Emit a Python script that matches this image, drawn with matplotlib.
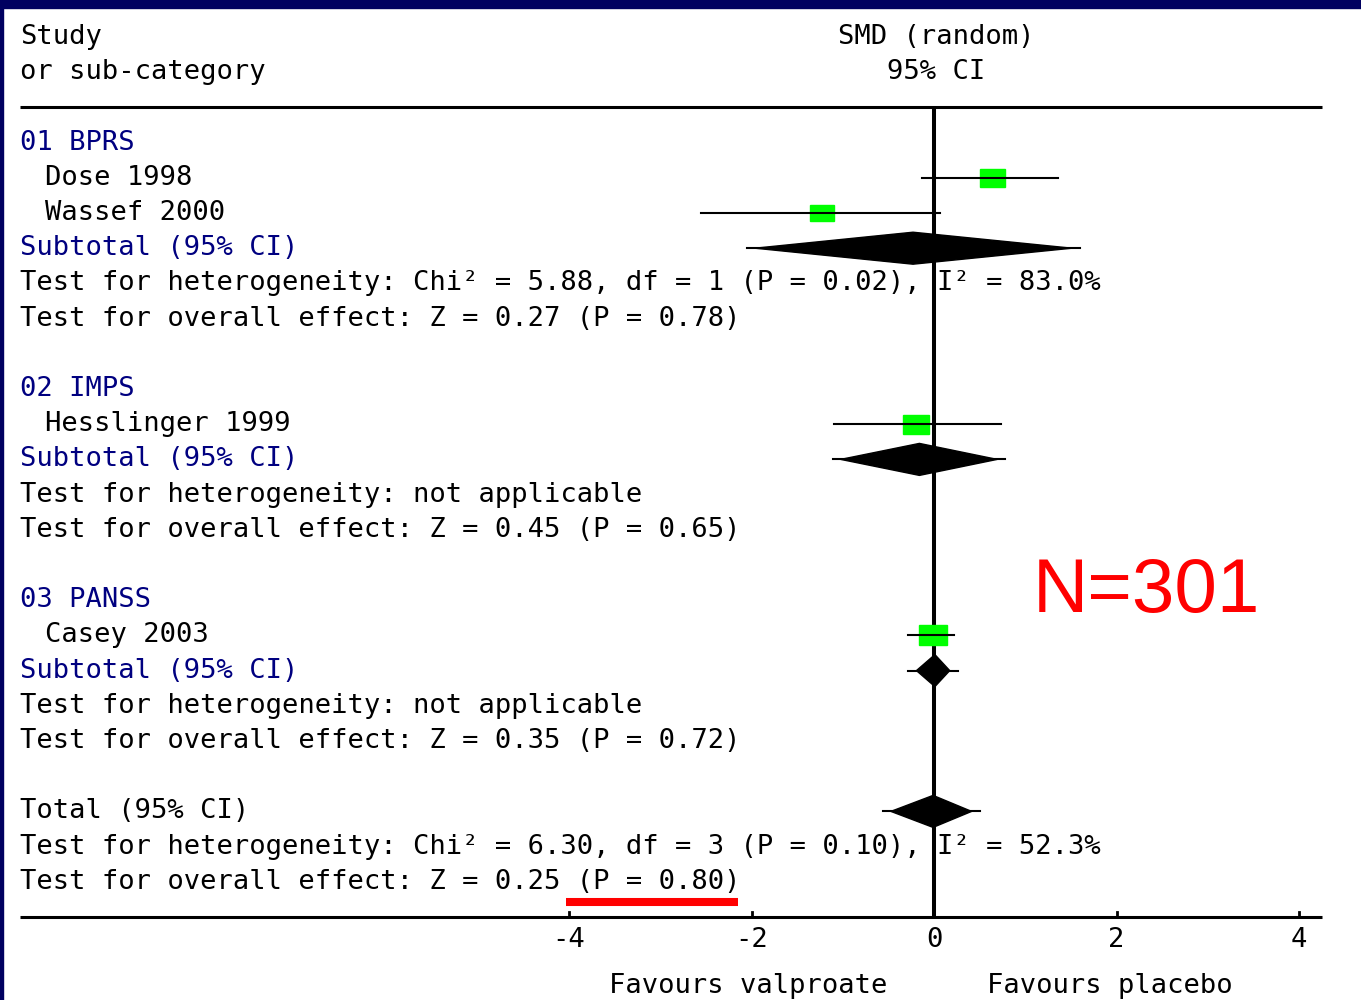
import numpy as np
import matplotlib.pyplot as plt
from matplotlib.patches import Rectangle, Polygon

# ---- data ----
groups = ["01 BPRS", "02 IMPS", "03 PANSS"]
studies = ["Dose 1998", "Wassef 2000", "Hesslinger 1999", "Casey 2003"]
study_group = [0, 0, 1, 2]
smd = [0.64, -1.23, -0.20, -0.01]
ci_lo = [-0.13, -2.55, -1.10, -0.28]
ci_hi = [1.36, 0.07, 0.73, 0.22]
weight = [24.6, 20.5, 25.8, 29.1]

sub_smd = [-0.23, -0.16, 0.01]
sub_lo = [-2.05, -1.11, -0.28]
sub_hi = [1.60, 0.78, 0.26]
sub_het = ["Test for heterogeneity: Chi\u00b2 = 5.88, df = 1 (P = 0.02), I\u00b2 = 83.0%",
           "Test for heterogeneity: not applicable",
           "Test for heterogeneity: not applicable"]
sub_z = ["Test for overall effect: Z = 0.27 (P = 0.78)",
         "Test for overall effect: Z = 0.45 (P = 0.65)",
         "Test for overall effect: Z = 0.35 (P = 0.72)"]

tot_smd = -0.01
tot_lo = -0.56
tot_hi = 0.50
tot_het = "Test for heterogeneity: Chi\u00b2 = 6.30, df = 3 (P = 0.10), I\u00b2 = 52.3%"
tot_z = "Test for overall effect: Z = 0.25 (P = 0.80)"

ticks = [-4, -2, 0, 2, 4]
n_total = 301

# ---- layout helpers (pixel -> data) ----
PX_UNIT = 91.25      # pixels per SMD unit
X0 = 934             # pixel column of SMD = 0
ROW_H = 35.2         # pixels per text row
ROW0 = 37            # pixel row of first text line


def xp(px):
    return (px - X0) / PX_UNIT


def rp(py):
    return (py - ROW0) / ROW_H


navy = "#000080"
mono = "DejaVu Sans Mono"
fs = 19.5

fig = plt.figure(figsize=(13.61, 10), dpi=100)
ax = fig.add_axes([0, 0, 1, 1])
ax.set_xlim(xp(0), xp(1361))
ax.set_ylim(rp(1000), rp(0))
ax.axis("off")

# frame bands
fig.patches.append(Rectangle((0, 1 - 8 / 1000), 1, 8 / 1000, transform=fig.transFigure,
                             color="#000060", zorder=10))
fig.patches.append(Rectangle((0, 0), 3 / 1361, 1, transform=fig.transFigure,
                             color="#000060", zorder=10))


def txt(x, row, s, color="black", **kw):
    ax.text(xp(x), row, s, color=color, family=mono, fontsize=fs,
            va="center", ha=kw.pop("ha", "left"), zorder=1, **kw)


# header
txt(20, 0, "Study")
txt(20, 1, "or sub-category")
txt(936, 0, "SMD (random)", ha="center")
txt(936, 1, "95% CI", ha="center")
ax.plot([xp(20), xp(1322)], [2, 2], color="black", lw=2.2, solid_capstyle="butt")


def diamond(est, lo, hi, row):
    ax.plot([lo, hi], [row, row], color="black", lw=1.5, zorder=4)
    pad = 8 / PX_UNIT
    h = 16 / ROW_H
    ax.add_patch(Polygon([(lo + pad, row), (est, row - h), (hi - pad, row), (est, row + h)],
                         closed=True, color="black", zorder=4))


row = 3
for g, name in enumerate(groups):
    txt(20, row, name, color=navy)
    row += 1
    for i in range(len(studies)):
        if study_group[i] != g:
            continue
        txt(45, row, studies[i])
        ax.plot([ci_lo[i], ci_hi[i]], [row, row], color="black", lw=1.5, zorder=5)
        w = 5.2 * np.sqrt(weight[i])
        h = 0.72 * w
        ax.add_patch(Rectangle((smd[i] - w / 2 / PX_UNIT, row - h / 2 / ROW_H),
                               w / PX_UNIT, h / ROW_H, color="#00ff00", zorder=4))
        row += 1
    txt(20, row, "Subtotal (95% CI)", color=navy)
    diamond(sub_smd[g], sub_lo[g], sub_hi[g], row)
    row += 1
    txt(20, row, sub_het[g])
    row += 1
    txt(20, row, sub_z[g])
    row += 2

txt(20, row, "Total (95% CI)")
diamond(tot_smd, tot_lo, tot_hi, row)
txt(20, row + 1, tot_het)
txt(20, row + 2, tot_z)
axis_row = row + 3

# zero line and x axis
ax.plot([0, 0], [2, axis_row], color="black", lw=2.9, zorder=3, solid_capstyle="butt")
ax.plot([xp(20), xp(1322)], [axis_row, axis_row], color="black", lw=2.2,
        solid_capstyle="butt", zorder=3)
for t in ticks:
    ax.plot([t, t], [axis_row, axis_row - 5 / ROW_H], color="black", lw=2.0, zorder=3)
    ax.text(t, rp(940), str(t), family=mono, fontsize=fs, ha="center", va="center")

ax.text(xp(748), rp(986), "Favours valproate", family=mono, fontsize=fs,
        ha="center", va="center")
ax.text(xp(1110), rp(986), "Favours placebo", family=mono, fontsize=fs,
        ha="center", va="center")

# red highlight under the overall P value
ax.plot([xp(566), xp(738)], [rp(902), rp(902)], color="#ff0000", lw=5.8,
        solid_capstyle="butt", zorder=6)

ax.text(xp(1033), rp(612), "N=%d" % n_total, color="#ff0000",
        family="Liberation Sans", fontsize=55, ha="left", va="baseline")

plt.savefig("out.png", dpi=100)
